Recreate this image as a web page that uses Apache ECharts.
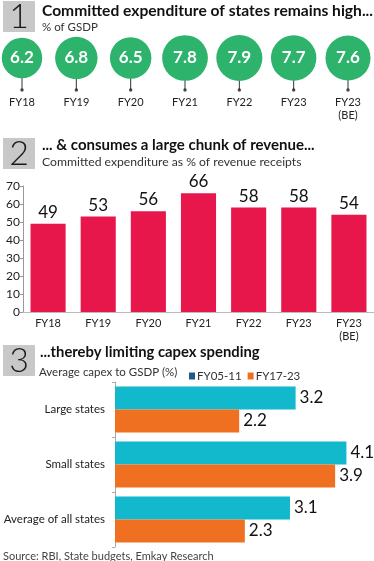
<!DOCTYPE html>
<html><head><meta charset="utf-8">
<script src="https://cdn.jsdelivr.net/npm/echarts@6/dist/echarts.min.js"></script>
<style>html,body{margin:0;padding:0;background:#fff}#c{width:374px;height:561px}</style>
</head><body><div id="c"></div>
<script>
const circleCats = ['FY18','FY19','FY20','FY21','FY22','FY23','FY23\n(BE)'];
const gsdpValues = [6.2, 6.8, 6.5, 7.8, 7.9, 7.7, 7.6];
const barCats = ['FY18','FY19','FY20','FY21','FY22','FY23','FY23\n(BE)'];
const revenueValues = [49, 53, 56, 66, 58, 58, 54];
const revenueTicks = [0, 10, 20, 30, 40, 50, 60, 70];
const stateCats = ['Large states','Small states','Average of all states'];
const capexFY0511 = [3.2, 4.1, 3.1];
const capexFY1723 = [2.2, 3.9, 2.3];
const seriesNames = ['FY05-11','FY17-23'];

const FONT = 'Lato';
const chart = echarts.init(document.getElementById('c'), null, {renderer:'canvas'});

function box(num, y){
  return [
    {type:'rect', shape:{x:3,y:y,width:32,height:31}, style:{fill:'#c8c8c8'}},
    {type:'text', style:{x:19,y:y+16,text:num,font:'300 34px '+FONT,fill:'#1a1a1a',align:'center',verticalAlign:'middle'}}
  ];
}
function title(t, x, y, s){
  return {type:'text', style:{x:x,y:y,text:t,font:'bold '+s+'px '+FONT,fill:'#111',verticalAlign:'middle'}};
}
function sub(t, x, y, s){
  return {type:'text', style:{x:x,y:y,text:t,font:s+'px '+FONT,fill:'#333',verticalAlign:'middle'}};
}

const stemY = 0.64;
chart.setOption({
  animation:false,
  textStyle:{fontFamily:FONT},
  graphic:[].concat(
    box('1',1), [title('Committed expenditure of states remains high...',42,11,15.6), sub('% of GSDP',42,27,11.5)],
    box('2',138), [title('... & consumes a large chunk of revenue...',42,145,15), sub('Committed expenditure as % of revenue receipts',42,162,12.2)],
    box('3',345), [title('...thereby limiting capex spending',40,352,14.8), sub('Average capex to GSDP (%)',39,372,11.5)],
    [{type:'text', style:{x:3,y:556,text:'Source: RBI, State budgets, Emkay Research',font:'11px '+FONT,fill:'#444',verticalAlign:'middle'}}]
  ),
  legend:{
    left:184, top:365, itemWidth:6, itemHeight:7, itemGap:6,
    textStyle:{fontSize:11.5, color:'#333', fontFamily:FONT, padding:[0,0,0,-3]},
    data:[{name:seriesNames[0], icon:'rect', itemStyle:{color:'#1d5a87'}},
          {name:seriesNames[1], icon:'rect', itemStyle:{color:'#f07022'}}]
  },
  grid:[
    {left:22, right:26, top:40, height:50},
    {left:23, right:0, top:186, height:126},
    {left:115, width:254, top:382, height:165}
  ],
  xAxis:[
    {gridIndex:0, type:'category', data:circleCats, boundaryGap:false,
     axisLine:{show:false}, axisTick:{show:false},
     axisLabel:{fontSize:11, color:'#222', margin:6, lineHeight:13, fontFamily:FONT}},
    {gridIndex:1, type:'category', data:barCats,
     axisLine:{lineStyle:{color:'#bbb'}}, axisTick:{show:false},
     axisLabel:{fontSize:11, color:'#222', margin:5, lineHeight:13, fontFamily:FONT, interval:0}},
    {gridIndex:2, type:'value', min:0, max:4.5, show:false}
  ],
  yAxis:[
    {gridIndex:0, type:'value', min:0, max:1, show:false},
    {gridIndex:1, type:'value', min:0, max:70, interval:10,
     axisLine:{show:true, lineStyle:{color:'#999'}}, axisTick:{show:true, length:3, lineStyle:{color:'#999'}},
     splitLine:{show:false},
     axisLabel:{fontSize:12, color:'#222', margin:3, fontFamily:FONT,
       formatter:v=>revenueTicks.includes(v)?String(v):''}},
    {gridIndex:2, type:'category', data:stateCats, inverse:true,
     axisLine:{lineStyle:{color:'#aaa'}}, axisTick:{show:true, length:3, lineStyle:{color:'#aaa'}},
     axisLabel:{fontSize:11.5, color:'#222', margin:10, fontFamily:FONT}}
  ],
  series:[
    {type:'bar', xAxisIndex:0, yAxisIndex:0, data:gsdpValues.map(()=>stemY), barWidth:1,
     itemStyle:{color:'#333'}, silent:true},
    {type:'scatter', xAxisIndex:0, yAxisIndex:0, data:gsdpValues.map(()=>0), symbolSize:3.5,
     itemStyle:{color:'#222'}, silent:true},
    {type:'scatter', xAxisIndex:0, yAxisIndex:0,
     data:gsdpValues.map(()=>stemY),
     symbolSize:(val,p)=>20+gsdpValues[p.dataIndex]*3.3,
     itemStyle:{color:'#2db36b', opacity:1},
     label:{show:true, position:'inside', color:'#fff', fontSize:17, fontWeight:'bold', fontFamily:FONT,
       formatter:p=>gsdpValues[p.dataIndex].toFixed(1)}},
    {type:'bar', xAxisIndex:1, yAxisIndex:1, data:revenueValues, barWidth:'70%',
     itemStyle:{color:'#e8174b'},
     label:{show:true, position:'top', color:'#111', fontSize:17, fontFamily:FONT, distance:3}},
    {name:seriesNames[0], type:'bar', xAxisIndex:2, yAxisIndex:2, data:capexFY0511, barWidth:23, barGap:'0%',
     itemStyle:{color:'#12b8cc'},
     label:{show:true, position:'right', color:'#111', fontSize:17, fontFamily:FONT, distance:4, formatter:p=>p.value.toFixed(1)}},
    {name:seriesNames[1], type:'bar', xAxisIndex:2, yAxisIndex:2, data:capexFY1723, barWidth:23, barGap:'0%',
     itemStyle:{color:'#f07022'},
     label:{show:true, position:'right', color:'#111', fontSize:17, fontFamily:FONT, distance:4, formatter:p=>p.value.toFixed(1)}}
  ]
});
</script></body></html>
